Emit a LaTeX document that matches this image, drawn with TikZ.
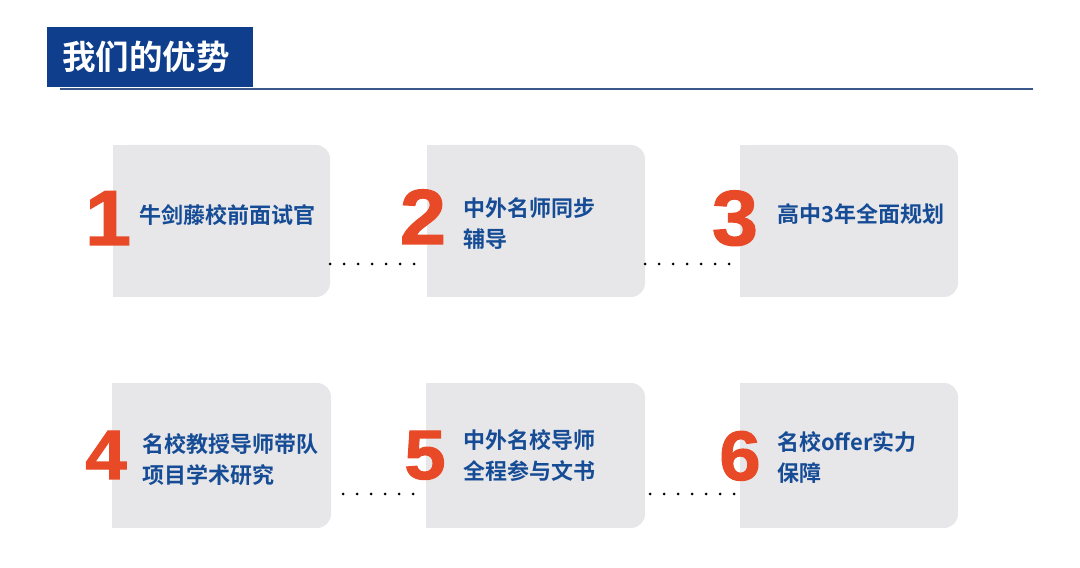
\documentclass[tikz,border=0pt]{standalone}
\usepackage{fontspec}
\setmainfont{Liberation Sans}
\newfontfamily\cjkb[BoldFont={Noto Sans CJK SC Bold}]{Noto Sans CJK SC}
\newfontfamily\numfont[BoldFeatures={FakeBold=1.6,FakeStretch=1.06}]{Liberation Sans}
\definecolor{titleblue}{RGB}{14,62,140}
\definecolor{rulecol}{RGB}{58,88,140}
\definecolor{boxgray}{RGB}{231,231,233}
\definecolor{numorange}{RGB}{232,74,39}
\definecolor{textblue}{RGB}{22,76,150}
\tikzset{
  stepbox/.style={fill=boxgray, draw=none, rounded corners=14pt, inner sep=0pt},
  bignum/.style={anchor=base, inner sep=0pt, text=numorange, font=\numfont\bfseries\fontsize{78}{78}\selectfont},
  bignumb/.style={bignum, font=\numfont\bfseries\fontsize{70}{70}\selectfont},
  itemtext/.style={anchor=west, inner sep=0pt, align=left, text=textblue, font=\cjkb\bfseries\fontsize{22}{31}\selectfont},
  dotline/.style={draw=black, line width=3pt, line cap=round, dash pattern=on 0pt off 14pt},
}
\begin{document}
\begin{tikzpicture}[x=1pt,y=1pt]
\useasboundingbox (0,0) rectangle (1080,568);
% title
\node[fill=titleblue, inner sep=0pt, minimum width=206pt, minimum height=60pt, anchor=south west] (title) at (47,481) {};
\node[anchor=west, inner sep=0pt, text=white, font=\cjkb\bfseries\fontsize{33.5}{33.5}\selectfont] (titletext) at (62,511) {我们的优势};
\coordinate (rulestart) at (60,479);
\coordinate (ruleend) at (1033,479);
\draw[rulecol, line width=2.6pt] (rulestart) -- (ruleend);
% boxes
\node[stepbox, minimum width=217pt, minimum height=152pt] (b1) at (221.5,347) {};
\node[stepbox, minimum width=218pt, minimum height=152pt] (b2) at (536,347) {};
\node[stepbox, minimum width=218pt, minimum height=152pt] (b3) at (849,347) {};
\node[stepbox, minimum width=219pt, minimum height=145pt] (b4) at (221.5,112.5) {};
\node[stepbox, minimum width=219pt, minimum height=145pt] (b5) at (535.5,112.5) {};
\node[stepbox, minimum width=218pt, minimum height=145pt] (b6) at (849,112.5) {};
\foreach \b in {b1,b2,b3,b4,b5,b6}{
  \fill[boxgray] (\b.north west) rectangle (\b.south);
}
% connectors
\coordinate (r1) at (0,304);
\coordinate (r2) at (0,74);
\draw[dotline] (b1.east |- r1) -- (b2.west |- r1);
\draw[dotline] (b2.east |- r1) -- ([xshift=2pt]b3.west |- r1);
\draw[dotline, shorten <=12pt] (b4.east |- r2) -- (b5.west |- r2);
\draw[dotline, shorten <=5pt] (b5.east |- r2) -- ([xshift=2pt]b6.west |- r2);
% numbers
\node[bignum] (n1) at (108,323) {1};
\node[bignum] (n2) at (423,324) {2};
\node[bignum] (n3) at (735,323) {3};
\node[bignumb] (n4) at (106,89) {4};
\node[bignumb] (n5) at (425,89) {5};
\node[bignumb] (n6) at (740,88) {6};
% texts
\node[itemtext] (t1) at (139,353) {牛剑藤校前面试官};
\node[itemtext] (t2) at (463,344) {中外名师同步\\辅导};
\node[itemtext] (t3) at (777,354) {高中3年全面规划};
\node[itemtext] (t4) at (142,108) {名校教授导师带队\\项目学术研究};
\node[itemtext] (t5) at (463,112) {中外名校导师\\全程参与文书};
\node[itemtext] (t6) at (777,110.5) {名校offer实力\\保障};
\end{tikzpicture}
\end{document}
